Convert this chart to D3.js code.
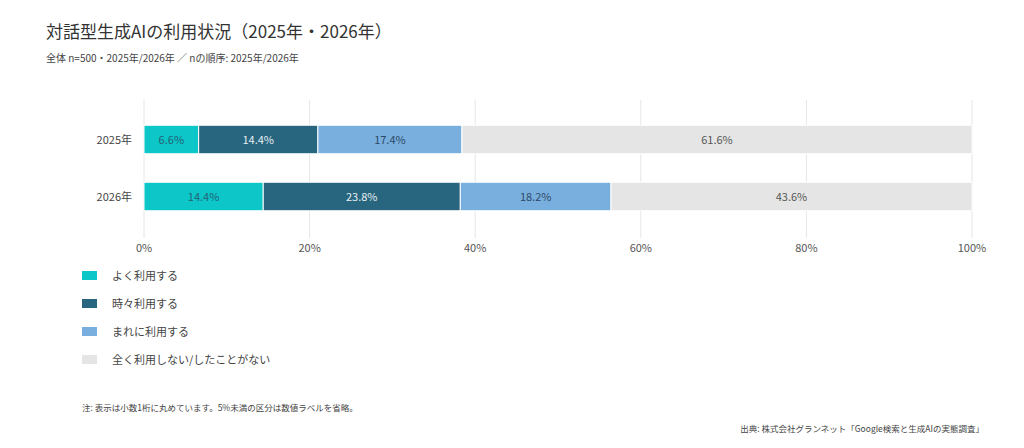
<!DOCTYPE html>
<html>
<head>
<meta charset="utf-8">
<script src="https://cdn.jsdelivr.net/npm/d3@7"></script>
<style>
  body { margin: 0; background: #fff; }
  svg { font-family: "Noto Sans CJK JP", "Noto Sans", sans-serif; }
</style>
</head>
<body>
<div id="chart"></div>
<script>
// Datos del gráfico
const years = ["2025年", "2026年"];
const categories = ["よく利用する", "時々利用する", "まれに利用する", "全く利用しない/したことがない"];
const values2025 = [6.6, 14.4, 17.4, 61.6];
const values2026 = [14.4, 23.8, 18.2, 43.6];
const xTicks = [0, 20, 40, 60, 80, 100];

const colors = ["#0cc6c8", "#28657e", "#79afdf", "#e5e5e5"];
const labelColors = ["#236275", "#e6eef2", "#2c4a66", "#555555"];

const WIDTH = 1024;
const HEIGHT = 448;
const MARGIN = { top: 100, left: 144, right: 52 };

const svg = d3.select("#chart").append("svg").attr("width", WIDTH).attr("height", HEIGHT);

// Título
svg.append("text").attr("x", 46).attr("y", 38).attr("font-size", 17).attr("fill", "#333")
  .text("対話型生成AIの利用状況（2025年・2026年）");
svg.append("text").attr("x", 46).attr("y", 62).attr("font-size", 10).attr("fill", "#444")
  .text("全体 n=500・2025年/2026年 ／ nの順序: 2025年/2026年");

// Escalas
const x = d3.scaleLinear().domain([0, 100]).range([MARGIN.left, WIDTH - MARGIN.right]);
const y = d3.scaleBand().domain(years).range([111, 225]).paddingInner(0.5).paddingOuter(0.25);

// Grilla
svg.append("g").selectAll("line").data(xTicks).join("line")
  .attr("x1", d => x(d)).attr("x2", d => x(d))
  .attr("y1", MARGIN.top).attr("y2", 238)
  .attr("stroke", "#e6e6e6").attr("stroke-width", 1);

// Eje X
svg.append("g").selectAll("text").data(xTicks).join("text")
  .attr("x", d => x(d)).attr("y", 252).attr("text-anchor", "middle")
  .attr("font-size", 11).attr("fill", "#555").text(d => d + "%");

// Eje Y
svg.append("g").selectAll("text").data(years).join("text")
  .attr("x", 132).attr("y", d => y(d) + y.bandwidth() / 2 + 4).attr("text-anchor", "end")
  .attr("font-size", 11).attr("fill", "#444").text(d => d);

// Barras apiladas
const rows = years.map((yr, i) => ({ year: yr, values: i === 0 ? values2025 : values2026 }));
const segs = rows.flatMap(r => {
  let acc = 0;
  return r.values.map((v, k) => {
    const s = { year: r.year, k: k, x0: acc, x1: acc + v, v: v };
    acc += v;
    return s;
  });
});

svg.append("g").selectAll("rect").data(segs).join("rect")
  .attr("x", d => x(d.x0)).attr("width", d => x(d.x1) - x(d.x0))
  .attr("y", d => y(d.year)).attr("height", y.bandwidth())
  .attr("fill", d => colors[d.k]).attr("stroke", "#fff").attr("stroke-width", 1);

svg.append("g").selectAll("text").data(segs.filter(d => d.v >= 5)).join("text")
  .attr("x", d => (x(d.x0) + x(d.x1)) / 2).attr("y", d => y(d.year) + y.bandwidth() / 2 + 4)
  .attr("text-anchor", "middle").attr("font-size", 11).attr("fill", d => labelColors[d.k])
  .text(d => d.v.toFixed(1) + "%");

// Leyenda
const legend = svg.append("g").selectAll("g").data(categories).join("g")
  .attr("transform", (d, i) => `translate(82, ${276 + i * 28})`);
legend.append("rect").attr("x", 0).attr("y", -5).attr("width", 15).attr("height", 9)
  .attr("fill", (d, i) => colors[i]);
legend.append("text").attr("x", 30).attr("y", 4).attr("font-size", 11).attr("fill", "#444").text(d => d);

// Notas
svg.append("text").attr("x", 82).attr("y", 411).attr("font-size", 8.5).attr("fill", "#444")
  .text("注: 表示は小数1桁に丸めています。5%未満の区分は数値ラベルを省略。");
svg.append("text").attr("x", 984).attr("y", 432).attr("text-anchor", "end").attr("font-size", 8.5).attr("fill", "#444")
  .text("出典: 株式会社グランネット「Google検索と生成AIの実態調査」");
</script>
</body>
</html>
